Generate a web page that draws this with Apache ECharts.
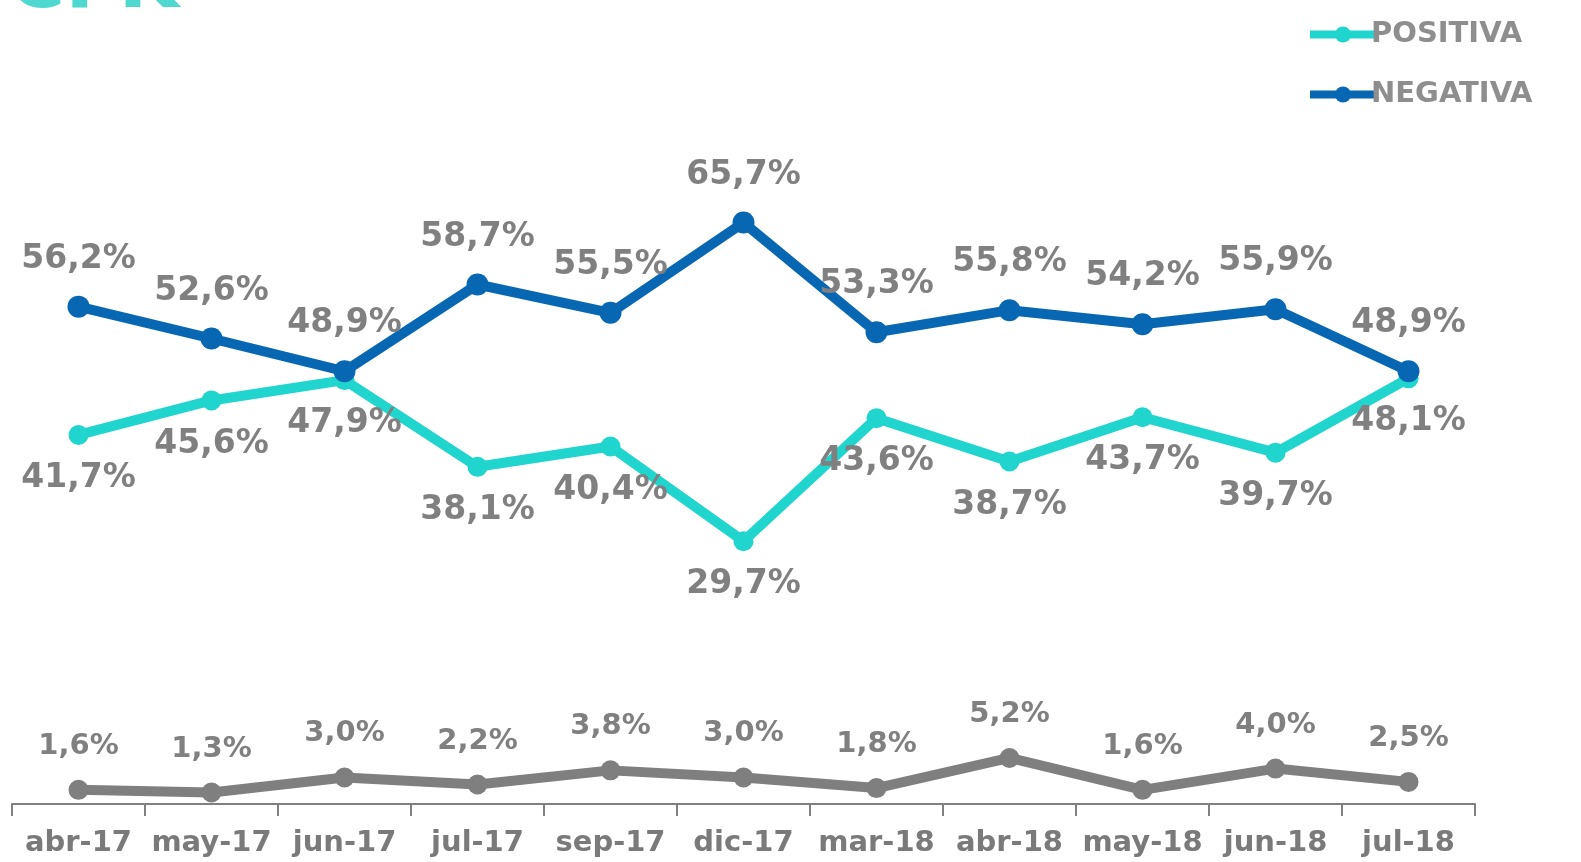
<!DOCTYPE html>
<html>
<head>
<meta charset="utf-8">
<script src="https://cdn.jsdelivr.net/npm/echarts@6/dist/echarts.min.js"></script>
<style>html,body{margin:0;padding:0;background:#fff}#c{width:1581px;height:862px}</style>
</head>
<body>
<div id="c"></div>
<script>
const categories = ['abr-17','may-17','jun-17','jul-17','sep-17','dic-17','mar-18','abr-18','may-18','jun-18','jul-18'];
const positiva = [41.7,45.6,47.9,38.1,40.4,29.7,43.6,38.7,43.7,39.7,48.1];
const negativa = [56.2,52.6,48.9,58.7,55.5,65.7,53.3,55.8,54.2,55.9,48.9];
const nsnc = [1.6,1.3,3.0,2.2,3.8,3.0,1.8,5.2,1.6,4.0,2.5];
const seriesNames = ['POSITIVA','NEGATIVA','NS/NC'];
const titleText = 'CFK';

const fmt = p => p.value.toFixed(1).replace('.', ',') + '%';
const FONT = 'DejaVu Sans';
const labelGrey = '#808080';

const chart = echarts.init(document.getElementById('c'), null, {renderer:'canvas'});
chart.setOption({
  animation: false,
  backgroundColor: '#fff',
  title: {
    text: titleText, left: 3, top: -57,
    textStyle: {color:'#4fd8d0', fontSize: 78, fontWeight:'bold', fontFamily: FONT}
  },
  legend: {
    data: [seriesNames[0], seriesNames[1]],
    orient: 'vertical', left: 1301, top: 15,
    itemWidth: 66, itemHeight: 20, itemGap: 31,
    lineStyle: {width: 8},
    textStyle: {color:'#8e8e8e', fontSize: 29, fontWeight:'bold', fontFamily: FONT, padding:[0,0,0,-10]}
  },
  grid: {left: 12, right: 106, top: 96, bottom: 58, containLabel: false},
  xAxis: {
    type: 'category', data: categories, boundaryGap: true,
    axisLine: {lineStyle: {color:'#808080', width: 2}},
    axisTick: {show: true, interval: 0, length: 12, lineStyle: {color:'#808080', width: 2}},
    axisLabel: {interval: 0, color:'#7a7a7a', fontSize: 29, fontWeight:'bold', fontFamily: FONT, margin: 25}
  },
  yAxis: {type:'value', min:0, max:80, show:false, splitLine:{show:false}},
  series: [
    {
      name: seriesNames[0], type:'line', data: positiva, symbol:'circle', symbolSize: 20,
      lineStyle: {color:'#1fd5ce', width: 10}, itemStyle: {color:'#1fd5ce'},
      label: {show:true, position:'bottom', distance: 17, formatter: fmt, color: labelGrey, fontSize: 33, fontWeight:'bold', fontFamily: FONT},
      z: 2
    },
    {
      name: seriesNames[1], type:'line', data: negativa, symbol:'circle', symbolSize: 22,
      lineStyle: {color:'#0767b2', width: 10}, itemStyle: {color:'#0767b2'},
      label: {show:true, position:'top', distance: 20, formatter: fmt, color: labelGrey, fontSize: 33, fontWeight:'bold', fontFamily: FONT},
      z: 3
    },
    {
      name: seriesNames[2], type:'line', data: nsnc, symbol:'circle', symbolSize: 20,
      lineStyle: {color:'#7f7f7f', width: 10}, itemStyle: {color:'#7f7f7f'},
      label: {show:true, position:'top', distance: 19, formatter: fmt, color: labelGrey, fontSize: 29, fontWeight:'bold', fontFamily: FONT},
      z: 2
    }
  ]
});
</script>
</body>
</html>
